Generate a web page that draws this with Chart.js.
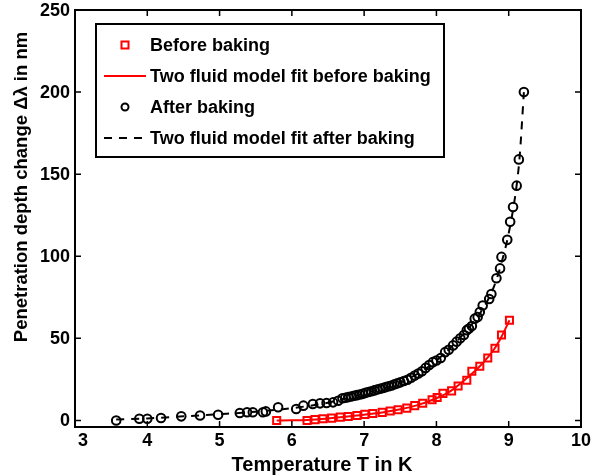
<!DOCTYPE html>
<html>
<head>
<meta charset="utf-8">
<script src="https://cdn.jsdelivr.net/npm/chart.js@4"></script>
<style>
  body { margin: 0; background: #fff; }
  #wrap { width: 605px; height: 476px; }
</style>
</head>
<body>
<div id="wrap"><canvas id="myChart" width="605" height="476"></canvas></div>
<script>
const ctx = document.getElementById('myChart');

// before baking (measured, red squares)
const beforeT = [5.79, 6.21, 6.32, 6.43, 6.55, 6.67, 6.78, 6.90, 7.01, 7.12, 7.25, 7.36, 7.47, 7.59,
  7.70, 7.81, 7.94, 8.01, 8.09, 8.21, 8.30, 8.42, 8.49, 8.60, 8.71, 8.81, 8.90, 9.01];
const beforeV = [0, 0, 0.5, 1, 1.4, 2, 2.4, 3, 3.7, 4.2, 4.9, 5.7, 6.5, 7.5,
  9, 10.5, 12.6, 14, 16.5, 18, 21, 24.5, 30, 33, 38, 44, 52, 61];

// two fluid fit before baking
const fitBeforeT = [5.79, 6.0, 6.21, 6.5, 6.8, 7.0, 7.25, 7.5, 7.75, 8.0, 8.2, 8.4, 8.6, 8.8, 8.9, 9.01];
const fitBeforeV = [0, 0.1, 0.3, 1.2, 2.5, 3.5, 4.9, 6.8, 9.5, 13.5, 18, 25, 33, 43.5, 51, 61];

// after baking (measured, black circles)
const afterT = [3.57, 3.89, 4.00, 4.19, 4.47, 4.73, 4.98, 5.28, 5.38, 5.46, 5.60, 5.64, 5.81, 6.06,
  6.16, 6.29, 6.39, 6.48, 6.57, 6.64, 6.70, 6.74, 6.78, 6.82, 6.86, 6.90, 6.94, 6.98, 7.02, 7.06,
  7.10, 7.14, 7.18, 7.22, 7.26, 7.30, 7.34, 7.38, 7.42, 7.46, 7.50, 7.55, 7.60, 7.65, 7.70, 7.75,
  7.80, 7.85, 7.90, 7.95, 8.00, 8.06, 8.12, 8.17, 8.23, 8.28, 8.33, 8.38, 8.42, 8.45, 8.49, 8.53,
  8.57, 8.60, 8.64, 8.73, 8.76, 8.83, 8.88, 8.90, 8.98, 9.02, 9.06, 9.11, 9.14, 9.21];
const afterV = [0, 1, 1, 1.5, 2.5, 3, 3.5, 4.5, 5, 5, 5, 5.5, 8, 7,
  9, 10, 10.4, 10.6, 11, 12, 13.5, 13.8, 14.2, 14.6, 15, 15.4, 15.8, 16.2, 16.8, 17.3,
  17.8, 18.3, 18.8, 19.3, 19.8, 20.3, 20.8, 21.3, 22, 22.6, 23.2, 24, 24.8, 26, 27.3, 28.6,
  30, 32, 33.8, 35.5, 36.5, 38, 41.6, 43, 45.7, 48, 50, 52, 55, 56, 57.5, 62,
  63, 66, 70, 74, 77, 86.6, 92.6, 99.6, 110, 121, 130, 143, 159, 200];

// two fluid fit after baking
const fitAfterT = [3.57, 4.0, 4.5, 5.0, 5.5, 6.0, 6.5, 7.0, 7.5, 7.8, 8.0, 8.2, 8.4, 8.6, 8.8, 8.9, 9.0, 9.1, 9.15, 9.21];
const fitAfterV = [0.5, 1.2, 2.5, 3.8, 5.3, 7.5, 10.8, 16.5, 23.2, 30, 36.5, 44.5, 54, 65, 82, 96, 114, 140, 160, 200];

const xTicks = [3, 4, 5, 6, 7, 8, 9, 10];
const yTicks = [0, 50, 100, 150, 200, 250];

const xTitle = 'Temperature T in K';
const yTitle = 'Penetration depth change \u0394\u03bb in nm';

const FONT = "'Liberation Sans', Arial, sans-serif";

function pts(xs, ys) {
  return xs.map((x, i) => ({ x: x, y: ys[i] }));
}

// frame, inward ticks on all sides, tick labels and axis titles
const framePlugin = {
  id: 'frame',
  afterDatasetsDraw(chart) {
    const c = chart.ctx, a = chart.chartArea;
    const sx = chart.scales.x, sy = chart.scales.y;
    c.save();
    c.strokeStyle = '#000';
    c.lineWidth = 2;
    c.strokeRect(a.left, a.top, a.right - a.left, a.bottom - a.top);
    c.lineWidth = 1.5;
    c.beginPath();
    xTicks.forEach(t => {
      const px = sx.getPixelForValue(t);
      c.moveTo(px, a.bottom); c.lineTo(px, a.bottom - 6);
      c.moveTo(px, a.top); c.lineTo(px, a.top + 6);
    });
    yTicks.forEach(t => {
      const py = sy.getPixelForValue(t);
      c.moveTo(a.left, py); c.lineTo(a.left + 6, py);
      c.moveTo(a.right, py); c.lineTo(a.right - 6, py);
    });
    c.stroke();

    c.fillStyle = '#000';
    c.font = 'bold 18px ' + FONT;
    c.textAlign = 'center';
    c.textBaseline = 'middle';
    xTicks.forEach((t, i) => {
      let px = sx.getPixelForValue(t);
      if (i === 0) px += 8;   // first label nudged off the corner like the original
      c.fillText(String(t), px, a.bottom + 14);
    });
    c.textAlign = 'right';
    yTicks.forEach(t => {
      c.fillText(String(t), a.left - 5, sy.getPixelForValue(t) + 1);
    });

    c.textAlign = 'center';
    c.font = 'bold 20px ' + FONT;
    c.fillText(xTitle, 322, 465);
    c.save();
    c.translate(22, 187);
    c.rotate(-Math.PI / 2);
    c.font = 'bold 18.5px ' + FONT;
    c.fillText(yTitle, 0, 0);
    c.restore();
    c.restore();
  }
};

// boxed legend like the original
const legendPlugin = {
  id: 'boxLegend',
  afterDatasetsDraw(chart) {
    const c = chart.ctx;
    const ds = chart.data.datasets;
    const rows = [45, 76, 107, 138];
    c.save();
    c.fillStyle = '#fff';
    c.fillRect(96, 24, 348, 133);
    c.strokeStyle = '#000';
    c.lineWidth = 2;
    c.strokeRect(96, 24, 348, 133);
    ds.forEach((d, i) => {
      const y = rows[i];
      if (d.showLine) {
        c.strokeStyle = d.borderColor;
        c.lineWidth = 2;
        c.setLineDash(d.borderDash || []);
        c.beginPath(); c.moveTo(104, y); c.lineTo(146, y); c.stroke();
        c.setLineDash([]);
      } else {
        c.strokeStyle = d.pointBorderColor;
        c.lineWidth = 2;
        c.beginPath();
        if (d.pointStyle === 'rect') c.rect(121.5, y - 3.5, 7, 7);
        else c.arc(125, y, 3.5, 0, Math.PI * 2);
        c.stroke();
      }
      c.fillStyle = '#000';
      c.font = 'bold 18px ' + FONT;
      c.textBaseline = 'middle';
      c.textAlign = 'left';
      c.fillText(d.label, 150, y + 1);
    });
    c.restore();
  }
};

new Chart(ctx, {
  type: 'scatter',
  data: {
    datasets: [
      {
        label: 'Before baking',
        data: pts(beforeT, beforeV),
        showLine: false,
        pointStyle: 'rect',
        pointRadius: 5,
        pointBorderWidth: 2,
        pointBorderColor: '#ff0000',
        pointBackgroundColor: 'rgba(0,0,0,0)',
        order: 1
      },
      {
        label: 'Two fluid model fit before baking',
        data: pts(fitBeforeT, fitBeforeV),
        showLine: true,
        borderColor: '#ff0000',
        borderWidth: 2,
        pointRadius: 0,
        cubicInterpolationMode: 'monotone',
        order: 3
      },
      {
        label: 'After baking',
        data: pts(afterT, afterV),
        showLine: false,
        pointStyle: 'circle',
        pointRadius: 4.3,
        pointBorderWidth: 2,
        pointBorderColor: '#000',
        pointBackgroundColor: 'rgba(0,0,0,0)',
        order: 2
      },
      {
        label: 'Two fluid model fit after baking',
        data: pts(fitAfterT, fitAfterV),
        showLine: true,
        borderColor: '#000',
        borderWidth: 2,
        borderDash: [8, 7],
        pointRadius: 0,
        cubicInterpolationMode: 'monotone',
        order: 4
      }
    ]
  },
  options: {
    responsive: false,
    animation: false,
    events: [],
    layout: { padding: { top: 10, right: 24, left: 0, bottom: 0 } },
    plugins: {
      legend: { display: false },
      tooltip: { enabled: false }
    },
    scales: {
      x: {
        type: 'linear',
        min: 3, max: 10,
        afterBuildTicks: s => { s.ticks = xTicks.map(v => ({ value: v })); },
        afterFit: s => { s.height = 49; },
        grid: { display: false },
        border: { display: false },
        ticks: { display: false }
      },
      y: {
        min: -4, max: 250,
        afterBuildTicks: s => { s.ticks = yTicks.map(v => ({ value: v })); },
        afterFit: s => { s.width = 75; },
        grid: { display: false },
        border: { display: false },
        ticks: { display: false }
      }
    }
  },
  plugins: [framePlugin, legendPlugin]
});
</script>
</body>
</html>
